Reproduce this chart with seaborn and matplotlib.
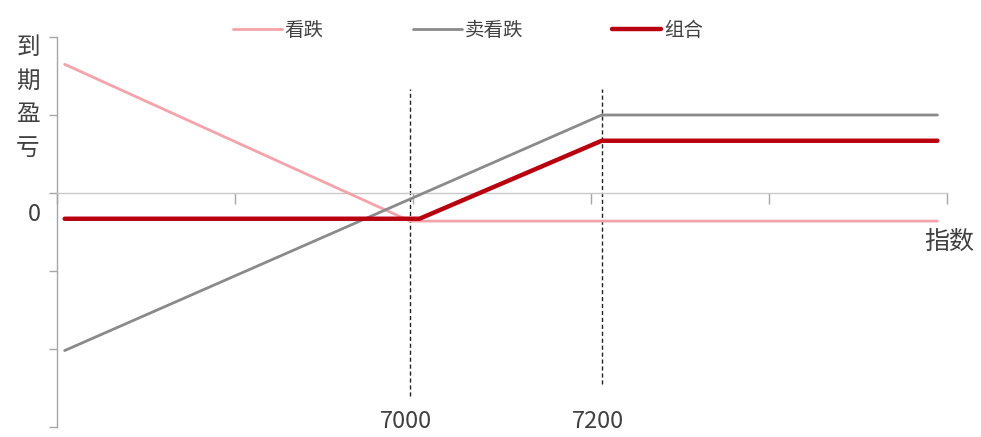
import numpy as np
import pandas as pd
import matplotlib
matplotlib.use("Agg")
import matplotlib.pyplot as plt
import seaborn as sns

# Payoff at expiry versus index level for each leg and the combined position
series_names = ["看跌", "卖看跌", "组合"]
put_index = [6640, 7000, 7550]
put_pnl = [165, -36, -36]
short_put_index = [6640, 7200, 7550]
short_put_pnl = [-202, 100, 100]
combo_index = [6640, 7010, 7200, 7550]
combo_pnl = [-33, -33, 67, 67]

strikes = [7000, 7200]
strike_labels = ["7000", "7200"]
zero_label = "0"
y_title = "到期盈亏"
x_title = "指数"

sns.set_style("white")
plt.rcParams["font.family"] = ["Noto Sans CJK SC", "DejaVu Sans"]

frames = []
for name, xs, ys in zip(series_names,
                        [put_index, short_put_index, combo_index],
                        [put_pnl, short_put_pnl, combo_pnl]):
    frames.append(pd.DataFrame({"指数": xs, "盈亏": ys, "系列": name}))
df = pd.concat(frames, ignore_index=True)

colors = {"看跌": "#F4A3AB", "卖看跌": "#8A8A8A", "组合": "#B8000F"}
widths = {"看跌": 2.0, "卖看跌": 2.0, "组合": 3.2}

W, H = 981, 437
fig = plt.figure(figsize=(W / 100, H / 100), dpi=100)
ax = fig.add_axes([57 / W, 10 / H, 890 / W, 390 / H])

text_color = "#404040"
axis_color = "#A6A6A6"

# strike markers
ax.vlines(strikes[0], -260, 133, colors="#222222", linestyles=(0, (3, 2)), linewidth=1.0, zorder=1)
ax.vlines(strikes[1], -245, 133, colors="#222222", linestyles=(0, (3, 2)), linewidth=1.0, zorder=1)

for name in series_names:
    sub = df[df["系列"] == name]
    sns.lineplot(data=sub, x="指数", y="盈亏", ax=ax, color=colors[name],
                 linewidth=widths[name], label=name, sort=False, zorder=3)

ax.set_xlim(6632, 7560)
ax.set_ylim(-300, 200)
ax.set_xlabel("")
ax.set_ylabel("")

for s in ["top", "right"]:
    ax.spines[s].set_visible(False)
ax.spines["left"].set_color(axis_color)
ax.spines["left"].set_linewidth(1.0)
ax.spines["bottom"].set_position(("data", 0))
ax.spines["bottom"].set_color("#C8C8C8")
ax.spines["bottom"].set_linewidth(1.0)

ax.set_yticks(np.arange(-300, 201, 100))
ax.set_yticklabels([])
ax.set_xticks(np.linspace(6632, 7560, 6))
ax.set_xticklabels([])
ax.tick_params(axis="y", left=True, direction="out", length=6, width=1, color=axis_color)
ax.tick_params(axis="x", bottom=True, direction="out", length=8, width=1, color=axis_color)

# labels
ax.text(-0.025, -28, zero_label, transform=ax.get_yaxis_transform(),
        ha="center", va="center", fontsize=17, color=text_color)
for xv, lab in zip(strikes, strike_labels):
    ax.text(xv - 4, 0.013, lab, transform=ax.get_xaxis_transform(),
            ha="center", va="center", fontsize=17, color=text_color)
ax.text(1.003, -62, x_title, transform=ax.get_yaxis_transform(),
        ha="center", va="center", fontsize=18, color=text_color)
fig.text(28 / W, 1 - 98 / H, "\n".join(y_title), ha="center", va="center",
         fontsize=17, color=text_color, linespacing=1.6)

leg = ax.legend(loc="center", bbox_to_anchor=(468 / W, 1 - 30 / H),
                bbox_transform=fig.transFigure, ncol=3, frameon=False,
                fontsize=14, handlelength=2.5, handletextpad=0.15,
                columnspacing=4.6, labelcolor=text_color)

fig.savefig("out.png", dpi=100)
